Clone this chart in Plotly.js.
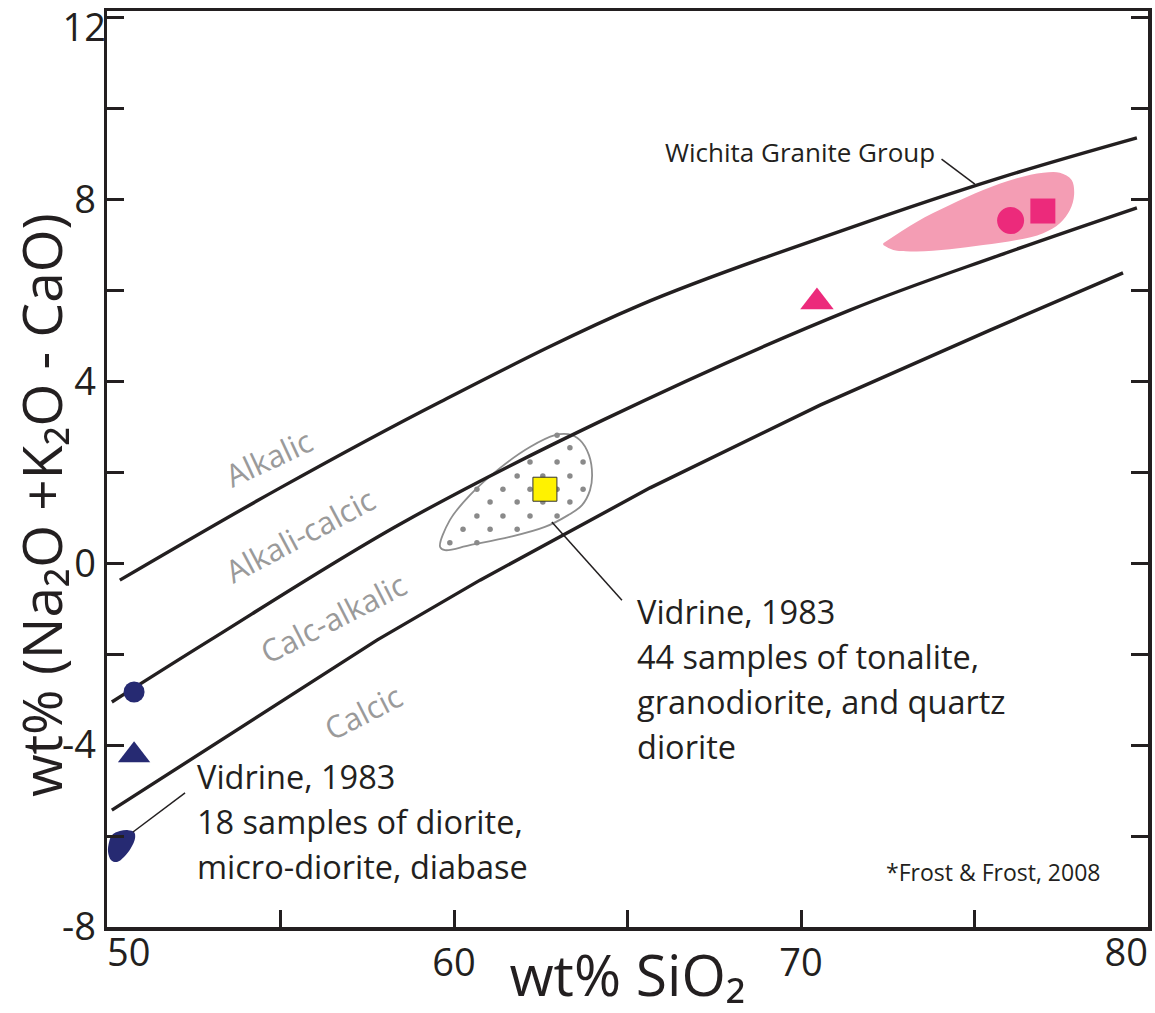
<!DOCTYPE html>
<html><head><meta charset="utf-8">
<script src="https://cdn.plot.ly/plotly-3.0.1.min.js"></script>
<style>html,body{margin:0;padding:0;background:#fff}#chart{width:1155px;height:1013px}</style>
</head><body><div id="chart"></div>
<script>
// ---- Boundary curves (Frost & Frost, 2008) ----
const alkalicX = [50.37, 54.99, 59.60, 65.36, 71.41, 75.73, 79.68];
const alkalicY = [-0.37, 1.66, 3.55, 5.68, 7.38, 8.48, 9.36];
const alkaliCalcicX = [50.14, 52.97, 58.44, 64.29, 71.41, 75.73, 79.68];
const alkaliCalcicY = [-3.05, -1.69, 0.86, 3.15, 5.57, 6.78, 7.82];
const calcAlkalicX = [50.14, 57.78, 60.75, 65.65, 70.55, 75.45, 79.28];
const calcAlkalicY = [-5.43, -1.69, -0.37, 1.66, 3.48, 5.13, 6.39];

// ---- Fields ----
const wichitaFieldX = [72.37, 73.33, 74.29, 75.25, 76.22, 76.98, 77.46, 77.80, 77.87, 77.75, 77.46, 76.98, 76.22, 75.25, 74.29, 73.33, 72.66, 72.37];
const wichitaFieldY = [7.04, 7.51, 7.88, 8.21, 8.47, 8.59, 8.59, 8.43, 8.10, 7.77, 7.48, 7.26, 7.11, 7.00, 6.91, 6.86, 6.89, 7.00];
const tonaliteFieldX = [59.60, 59.88, 60.46, 61.33, 62.19, 62.91, 63.29, 63.63, 63.89, 63.98, 63.92, 63.69, 63.29, 62.62, 61.61, 60.46, 59.74, 59.60];
const tonaliteFieldY = [0.36, 0.95, 1.50, 2.10, 2.56, 2.82, 2.84, 2.71, 2.38, 1.94, 1.61, 1.28, 1.06, 0.80, 0.58, 0.40, 0.29, 0.36];
const tonaliteDotsX = [62.97, 63.34, 62.19, 62.97, 63.72, 61.82, 62.56, 63.34, 60.66, 61.41, 62.19, 62.97, 63.72, 61.04, 61.82, 62.56, 63.34, 60.66, 61.41, 62.19, 62.97, 60.26, 61.04, 61.82, 59.88, 60.66];
const tonaliteDotsY = [2.82, 2.54, 2.23, 2.23, 2.23, 1.92, 1.92, 1.92, 1.63, 1.63, 1.63, 1.63, 1.63, 1.35, 1.35, 1.35, 1.35, 1.04, 1.04, 1.04, 1.04, 0.75, 0.75, 0.75, 0.45, 0.45];
const dioriteFieldX = [50.14, 50.37, 50.61, 50.78, 50.81, 50.69, 50.49, 50.29, 50.12, 50.03, 50.06, 50.14];
const dioriteFieldY = [-5.98, -5.89, -5.87, -5.91, -6.04, -6.26, -6.46, -6.57, -6.53, -6.35, -6.13, -5.98];

// ---- Sample symbols ----
const dioriteCircle = {x: [50.78], y: [-2.83]};
const dioriteTriangle = {x: [50.78], y: [-4.22]};
const tonaliteSquare = {x: [62.62], y: [1.63]};
const graniteCircle = {x: [76.04], y: [7.54]};
const graniteSquare = {x: [76.97], y: [7.75]};
const graniteTriangle = {x: [70.46], y: [5.75]};

// ---- Leader lines ----
const leaderDioriteX = [50.75, 52.25];
const leaderDioriteY = [-5.91, -5.05];
const leaderTonaliteX = [62.82, 64.84];
const leaderTonaliteY = [0.91, -0.81];
const leaderWichitaX = [74.05, 75.01];
const leaderWichitaY = [8.89, 8.34];

// ---- Ticks ----
const xTickVals = [50, 55, 60, 65, 70, 75, 80];
const xTickText = ['', '', '60', '', '70', '', ''];
const xFirstTick = [50];
const xFirstText = ['50'];
const xLastTick = [80];
const xLastText = ['80'];
const yTickVals = [-8, -6, -4, -2, 0, 2, 4, 6, 8, 10, 12];
const yTickText = ['-8', '', '-4', '', '0', '', '4', '', '8', '', ''];
const yTopTick = [12];
const yTopText = ['12'];

// ---- Labels ----
const regionLabels = ['Alkalic', 'Alkali-calcic', 'Calc-alkalic', 'Calcic'];
const regionLabelX = [54.64, 55.56, 56.51, 57.38];
const regionLabelY = [2.32, 0.62, -1.20, -3.27];
const regionLabelAngle = [-25, -28, -27, -27];
const dioriteNote = ['Vidrine, 1983', '18 samples of diorite,', 'micro-diorite, diabase'];
const dioriteNoteY = [-4.70, -5.69, -6.68];
const tonaliteNote = ['Vidrine, 1983', '44 samples of tonalite,', 'granodiorite, and quartz', 'diorite'];
const tonaliteNoteY = [-1.07, -2.06, -3.05, -4.04];

const INK = '#231F20';
const NAVY = '#262A72';
const MAGENTA = '#EC2A7B';
const FONT = 'Open Sans, Noto Sans, DejaVu Sans, sans-serif';

function lineTrace(x, y, w, shape) {
  return {x: x, y: y, mode: 'lines', line: {color: INK, width: w, shape: shape || 'linear'}, hoverinfo: 'skip', showlegend: false};
}
function markerTrace(d, symbol, size, color, lineColor, lineWidth) {
  return {x: d.x, y: d.y, mode: 'markers', hoverinfo: 'skip', showlegend: false,
    marker: {symbol: symbol, size: size, color: color, line: {color: lineColor || color, width: lineWidth || 0}}};
}

const traces = [
  {x: wichitaFieldX, y: wichitaFieldY, mode: 'lines', fill: 'toself', fillcolor: '#F49DB4',
   line: {width: 0, color: '#F49DB4', shape: 'spline'}, hoverinfo: 'skip', showlegend: false},
  {x: tonaliteFieldX, y: tonaliteFieldY, mode: 'lines',
   line: {width: 1.8, color: '#8E8E8E', shape: 'spline'}, hoverinfo: 'skip', showlegend: false},
  {x: tonaliteDotsX, y: tonaliteDotsY, mode: 'markers', marker: {size: 5.5, color: '#8A8A8A'}, hoverinfo: 'skip', showlegend: false},
  {x: dioriteFieldX, y: dioriteFieldY, mode: 'lines', fill: 'toself', fillcolor: NAVY,
   line: {width: 0, color: NAVY, shape: 'spline'}, hoverinfo: 'skip', showlegend: false},
  lineTrace(alkalicX, alkalicY, 3.4, 'spline'),
  lineTrace(alkaliCalcicX, alkaliCalcicY, 3.4, 'spline'),
  lineTrace(calcAlkalicX, calcAlkalicY, 3.4, 'linear'),
  lineTrace(leaderDioriteX, leaderDioriteY, 1.5),
  lineTrace(leaderTonaliteX, leaderTonaliteY, 1.5),
  lineTrace(leaderWichitaX, leaderWichitaY, 1.5),
  markerTrace(dioriteCircle, 'circle', 21, NAVY),
  markerTrace(dioriteTriangle, 'triangle-up', 28, NAVY),
  markerTrace(tonaliteSquare, 'square', 24, '#FFF200', '#333333', 1),
  markerTrace(graniteCircle, 'circle', 27, MAGENTA),
  markerTrace(graniteSquare, 'square', 25, MAGENTA),
  markerTrace(graniteTriangle, 'triangle-up', 29, MAGENTA),
  {x: [], y: [], xaxis: 'x2', yaxis: 'y', mode: 'markers', hoverinfo: 'skip', showlegend: false},
  {x: [], y: [], xaxis: 'x3', yaxis: 'y', mode: 'markers', hoverinfo: 'skip', showlegend: false},
  {x: [], y: [], xaxis: 'x', yaxis: 'y2', mode: 'markers', hoverinfo: 'skip', showlegend: false}
];

const annotations = [];
regionLabels.forEach(function (t, i) {
  annotations.push({x: regionLabelX[i], y: regionLabelY[i], xref: 'x', yref: 'y', text: t, showarrow: false,
    textangle: regionLabelAngle[i], font: {family: FONT, size: 31, color: '#9A9A9A'}});
});
dioriteNote.forEach(function (t, i) {
  annotations.push({x: 52.54, y: dioriteNoteY[i], xref: 'x', yref: 'y', text: t, showarrow: false,
    xanchor: 'left', yanchor: 'middle', font: {family: FONT, size: 32.5, color: INK}});
});
tonaliteNote.forEach(function (t, i) {
  annotations.push({x: 65.22, y: tonaliteNoteY[i], xref: 'x', yref: 'y', text: t, showarrow: false,
    xanchor: 'left', yanchor: 'middle', font: {family: FONT, size: 32.5, color: INK}});
});
annotations.push({x: 66.02, y: 9.05, xref: 'x', yref: 'y', text: 'Wichita Granite Group', showarrow: false,
  xanchor: 'left', yanchor: 'middle', font: {family: FONT, size: 26, color: INK}});
annotations.push({x: 78.67, y: -6.79, xref: 'x', yref: 'y', text: '*Frost &amp; Frost, 2008', showarrow: false,
  xanchor: 'right', yanchor: 'middle', font: {family: FONT, size: 23, color: INK}});
// y-axis title (placed where the original figure has it)
annotations.push({x: -0.064, y: 0.461, xref: 'paper', yref: 'paper', text: 'wt% (Na₂O +K₂O - CaO)',
  showarrow: false, textangle: -90, xanchor: 'center', yanchor: 'middle',
  font: {family: FONT, size: 55, color: INK}});

const tickFont = {family: FONT, size: 38, color: INK};
const layout = {
  width: 1155, height: 1013,
  margin: {l: 107, r: 7, t: 11, b: 86, pad: 0},
  paper_bgcolor: '#ffffff', plot_bgcolor: '#ffffff',
  font: {family: FONT, color: INK},
  showlegend: false,
  xaxis: {
    range: [50, 80], tickmode: 'array', tickvals: xTickVals, ticktext: xTickText,
    ticks: 'inside', ticklen: 17, tickwidth: 3, tickcolor: INK,
    showline: true, linewidth: 3.5, linecolor: INK, mirror: true,
    showgrid: false, zeroline: false, tickfont: tickFont,
    title: {text: 'wt% SiO₂', font: {family: FONT, size: 57, color: INK}, standoff: 0}
  },
  xaxis2: {
    range: [50, 80], overlaying: 'x', anchor: 'y', side: 'bottom',
    tickmode: 'array', tickvals: xFirstTick, ticktext: xFirstText, ticks: '',
    ticklabelposition: 'outside right', ticklabeloverflow: 'allow',
    showline: false, showgrid: false, zeroline: false, tickfont: tickFont
  },
  xaxis3: {
    range: [50, 80], overlaying: 'x', anchor: 'y', side: 'bottom',
    tickmode: 'array', tickvals: xLastTick, ticktext: xLastText, ticks: '',
    ticklabelposition: 'outside left', ticklabeloverflow: 'allow',
    showline: false, showgrid: false, zeroline: false, tickfont: tickFont
  },
  yaxis: {
    range: [-8, 12.15], tickmode: 'array', tickvals: yTickVals, ticktext: yTickText,
    ticks: 'inside', ticklen: 17, tickwidth: 3, tickcolor: INK,
    showline: true, linewidth: 3.5, linecolor: INK, mirror: 'ticks',
    showgrid: false, zeroline: false, tickfont: tickFont, ticklabeloverflow: 'allow'
  },
  yaxis2: {
    range: [-8, 12.15], overlaying: 'y', anchor: 'x', side: 'left',
    tickmode: 'array', tickvals: yTopTick, ticktext: yTopText, ticks: '',
    ticklabelshift: 10, ticklabeloverflow: 'allow',
    showline: false, showgrid: false, zeroline: false, tickfont: tickFont
  },
  annotations: annotations
};

Plotly.newPlot('chart', traces, layout, {displayModeBar: false, staticPlot: true});
</script></body></html>
